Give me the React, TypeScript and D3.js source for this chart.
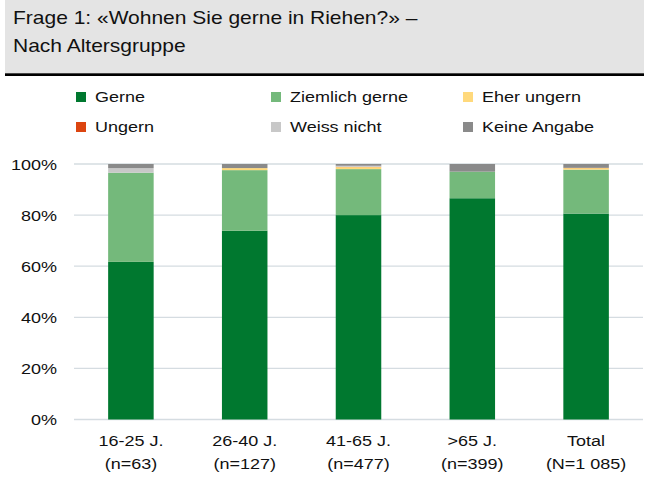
import React from "react";
import * as d3 from "d3";

const categories = ["16-25 J.", "26-40 J.", "41-65 J.", ">65 J.", "Total"];
const categorySub = ["(n=63)", "(n=127)", "(n=477)", "(n=399)", "(N=1 085)"];
const seriesNames = ["Gerne", "Ziemlich gerne", "Eher ungern", "Ungern", "Weiss nicht", "Keine Angabe"];
const seriesColors = ["#00782f", "#74b97b", "#ffd97c", "#dc4510", "#c8c8c8", "#8a8a8a"];
const gerne = [61.7, 73.9, 80.0, 86.6, 80.6];
const ziemlichGerne = [34.9, 23.7, 18.0, 10.4, 17.2];
const eherUngern = [0, 0.8, 0.8, 0, 0.6];
const ungern = [0, 0, 0.1, 0, 0.1];
const weissNicht = [1.8, 0, 0.4, 0, 0];
const keineAngabe = [1.6, 1.6, 0.7, 3.0, 1.5];
const yTicks = [0, 20, 40, 60, 80, 100];

const FONT = "'Liberation Sans', Arial, sans-serif";
const SX = 1.2;

export default function App() {
  const W = 649, H = 479;
  const x = d3.scaleBand<string>().domain(categories).range([74, 643]).paddingInner(0.6).paddingOuter(0.3);
  const y = d3.scaleLinear().domain([0, 100]).range([419.5, 164]);
  const seriesVals = [gerne, ziemlichGerne, eherUngern, ungern, weissNicht, keineAngabe];
  const rows = categories.map((c, i) => {
    const r: any = { cat: c };
    seriesNames.forEach((s, k) => (r[s] = seriesVals[k][i]));
    return r;
  });
  const stacked = d3.stack<any>().keys(seriesNames)(rows);

  const legendCols = [76, 271, 463];
  const legendRows = [97, 127];

  const T = (props: { x: number; y: number; anchor?: string; size: number; children: any }) => (
    <text
      transform={`translate(${props.x},${props.y}) scale(${SX},1)`}
      textAnchor={props.anchor || "start"}
      dominantBaseline="central"
      fontSize={props.size}
      fontFamily={FONT}
      fill="#111"
    >
      {props.children}
    </text>
  );

  return (
    <svg width={W} height={H} style={{ position: "absolute", left: 0, top: 0 }}>
      <rect x={0} y={0} width={W} height={H} fill="#fff" />
      <rect x={5} y={0} width={639} height={73.5} fill="#e4e4e4" />
      <rect x={5} y={73.3} width={639} height={2.7} fill="#000" />
      <T x={13} y={18} size={17.5}>Frage 1: «Wohnen Sie gerne in Riehen?» –</T>
      <T x={13} y={46} size={17.5}>Nach Altersgruppe</T>

      {seriesNames.map((s, k) => {
        const col = k % 3, row = Math.floor(k / 3);
        const lx = legendCols[col], ly = legendRows[row];
        return (
          <g key={s}>
            <rect x={lx} y={ly - 5} width={10} height={10} fill={seriesColors[k]} />
            <T x={lx + 19} y={ly} size={15}>{s}</T>
          </g>
        );
      })}

      {yTicks.map((t) => (
        <g key={t}>
          <line x1={74} x2={643} y1={y(t)} y2={y(t)} stroke="#d5dce1" strokeWidth={1.3} />
          <T x={57} y={y(t) + 1} anchor="end" size={15}>{`${t}%`}</T>
        </g>
      ))}

      {stacked.map((layer, k) => (
        <g key={layer.key} fill={seriesColors[k]}>
          {layer.map((d, i) =>
            d[1] - d[0] > 0 ? (
              <rect
                key={i}
                x={x(categories[i])!}
                width={x.bandwidth()}
                y={y(d[1])}
                height={y(d[0]) - y(d[1])}
              />
            ) : null
          )}
        </g>
      ))}

      {categories.map((c, i) => (
        <g key={c}>
          <T x={x(c)! + x.bandwidth() / 2} y={441} anchor="middle" size={15}>{c}</T>
          <T x={x(c)! + x.bandwidth() / 2} y={464} anchor="middle" size={15}>{categorySub[i]}</T>
        </g>
      ))}
    </svg>
  );
}
